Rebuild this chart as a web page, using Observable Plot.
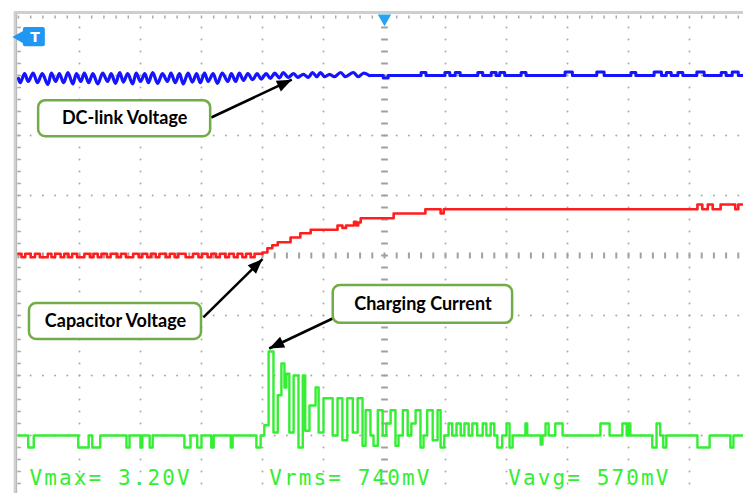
<!DOCTYPE html>
<html><head><meta charset="utf-8">
<script src="https://cdn.jsdelivr.net/npm/d3@7"></script>
<script src="https://cdn.jsdelivr.net/npm/@observablehq/plot@0.6"></script>
<style>
html,body{margin:0;padding:0;background:#fff;overflow:hidden;}
svg{display:block;overflow:hidden;}
g[font-family="DejaVu Sans Mono"] text{letter-spacing:2.1px;}
</style>
</head><body><div id="chart"></div>
<script>
// time in ms (10 ms/div, trigger at 0); level in screen divisions (8 div tall)
const dcRipple = [
  [-60,2.95],[-59.7,2.88],[-59.0,3.03],[-58.4,2.90],[-57.6,3.04],[-56.9,2.88],[-56.1,3.03],[-55.2,2.85],
  [-54.6,3.04],[-53.9,2.90],[-53.3,3.03],[-52.6,2.88],[-51.9,3.05],[-51.1,2.86],[-50.5,3.03],[-49.8,2.90],
  [-49.2,3.04],[-48.5,2.88],[-47.8,3.03],[-47.0,2.86],[-46.2,3.04],[-45.4,2.90],[-44.8,3.03],[-44.1,2.87],
  [-43.4,3.05],[-42.8,2.89],[-42.1,3.03],[-41.3,2.86],[-40.7,3.04],[-40.0,2.90],[-39.3,3.03],[-38.7,2.88],
  [-38.0,3.05],[-37.2,2.87],[-36.4,3.03],[-35.6,2.90],[-35.0,3.04],[-34.3,2.88],[-33.6,3.03],[-33.0,2.86],
  [-32.2,3.04],[-31.5,2.89],[-30.8,3.03],[-30.2,2.88],[-29.5,3.04],[-28.9,2.90],[-28.1,3.03],[-27.4,2.87],
  [-26.6,3.04],[-25.7,2.90],[-25.1,3.03],[-24.4,2.90],[-23.8,3.04],[-23.1,2.92],[-22.4,3.03],[-21.6,2.93],
  [-20.9,3.03],[-20.2,2.94],[-19.4,3.03],[-18.7,2.95],[-18.0,3.04],[-17.2,2.96],[-16.6,3.05],[-15.8,2.97],
  [-14.9,3.03],[-14.2,2.97],[-13.3,3.02],[-12.5,2.97],[-11.8,3.05],[-11.1,2.98],[-10.5,3.05],[-9.8,2.98],
  [-9.0,3.02],[-8.2,2.98],[-7.2,3.05],[-6.4,2.98],[-5.1,3.05],[-4.3,2.98],[-3.4,3.04],[-2.5,3.0]
];
const dcLevel = 3.0;
// [start, end, level] of the small glitches on the settled DC-link trace
const dcGlitches = [
  [-0.2,0.6,2.96],[6.0,6.8,3.05],[9.9,10.7,3.05],[11.6,12.4,3.05],[15.3,16.1,3.05],[17.5,18.3,3.05],
  [18.9,19.7,3.05],[22.4,23.2,3.05],[29.6,30.8,3.06],[34.8,36.0,3.06],[40.4,41.2,3.05],[44.2,45.4,3.06],
  [46.2,47.0,3.05],[48.1,48.9,3.05],[51.2,52.4,3.06],[55.2,56.0,3.05],[57.0,58.0,3.06]
];
const capLevel0 = 0.03;
const capNotches = [
  [-59.5,-58.9],[-58.0,-57.3],[-56.5,-55.2],[-54.6,-54.0],[-53.1,-52.5],[-51.8,-51.2],[-50.4,-49.2],
  [-48.3,-47.7],[-47.0,-46.4],[-45.5,-44.9],[-43.8,-43.2],[-42.4,-41.2],[-40.3,-39.7],[-38.9,-38.3],
  [-37.5,-36.9],[-35.8,-35.2],[-34.4,-33.8],[-32.6,-31.4],[-30.5,-29.9],[-29.0,-28.4],[-27.6,-27.0],
  [-26.1,-25.5],[-24.7,-24.1],[-23.3,-22.7],[-21.9,-21.3]
];
const capRise = [
  [-20.0,0.05],[-19.2,0.12],[-18.4,0.17],[-17.5,0.22],[-15.4,0.30],[-13.8,0.37],[-12.1,0.43],
  [-7.7,0.50],[-6.9,0.46],[-6.3,0.50],[-5.0,0.56],[-4.6,0.50],[-4.3,0.55],[-3.9,0.62],[1.5,0.70],
  [6.7,0.77],[9.2,0.70],[9.7,0.77],[51.3,0.85],[52.1,0.77],[53.0,0.85],[53.8,0.77],[55.1,0.85],
  [57.5,0.77],[58.0,0.85],[60,0.85]
];
const current = [
  [-60,-3.0],[-58.4,-3.2],[-57.5,-3.0],[-50.2,-3.2],[-48.5,-3.0],[-47.9,-3.2],[-46.6,-3.0],[-42.3,-3.2],
  [-41.8,-3.0],[-40.0,-3.2],[-39.7,-3.0],[-38.5,-3.2],[-38.0,-3.0],[-32.8,-3.2],[-31.8,-3.0],[-30.7,-3.2],
  [-30.0,-3.0],[-28.4,-3.2],[-28.0,-3.0],[-25.2,-3.2],[-24.9,-3.0],[-21.0,-3.2],[-20.3,-3.0],[-19.7,-2.83],
  [-19.0,-1.60],[-18.2,-2.95],[-17.5,-2.33],[-16.9,-1.80],[-16.4,-2.20],[-16.1,-1.97],[-15.6,-2.95],
  [-14.9,-2.00],[-14.1,-3.20],[-13.4,-2.00],[-13.0,-2.92],[-12.3,-2.50],[-11.3,-2.20],[-10.8,-2.95],
  [-10.0,-2.38],[-8.5,-3.00],[-7.7,-2.38],[-6.9,-3.08],[-6.1,-2.38],[-5.2,-2.95],[-4.4,-2.38],[-3.6,-3.17],
  [-3.1,-2.58],[-2.3,-3.00],[-1.8,-3.17],[-1.1,-2.58],[-0.3,-3.00],[0.3,-2.80],[1.0,-2.58],[1.8,-3.17],
  [2.3,-3.00],[3.0,-2.58],[3.8,-3.00],[4.4,-2.80],[5.1,-2.58],[5.9,-3.20],[6.4,-3.00],[7.0,-2.58],
  [7.9,-3.08],[8.7,-2.58],[9.2,-3.20],[9.8,-3.00],[10.5,-2.80],[11.1,-3.00],[11.8,-2.80],[12.5,-3.00],
  [13.1,-2.80],[13.8,-3.00],[14.4,-2.80],[15.2,-3.00],[16.1,-2.80],[16.7,-3.00],[17.4,-2.80],[18.0,-3.00],
  [18.5,-3.20],[19.3,-3.00],[20.0,-2.80],[20.5,-3.20],[21.0,-3.00],[23.1,-2.80],[23.4,-3.00],[25.6,-3.15],
  [25.9,-3.00],[26.4,-2.80],[26.9,-3.00],[28.0,-2.80],[29.2,-3.00],[35.4,-2.80],[36.9,-3.00],[39.0,-2.80],
  [39.7,-3.00],[40.0,-2.80],[40.3,-3.00],[43.9,-3.20],[44.6,-2.80],[45.2,-3.00],[45.7,-3.20],[46.2,-3.00],
  [51.3,-3.20],[53.3,-3.00],[56.7,-3.20],[57.2,-3.00],[60,-3.00]
];
const readouts = [
  {t:-58.2, label:"Vmax= 3.20V"},
  {t:-18.9, label:"Vrms= 740mV"},
  {t:20.3, label:"Vavg= 570mV"}
];
const callouts = [
  {label:"DC-link Voltage",   t1:-56.7, t2:-28.5, v1:1.98, v2:2.58, from:[-28.4,2.30], to:[-15.2,2.93]},
  {label:"Capacitor Voltage", t1:-58.2, t2:-30.0, v1:-1.40, v2:-0.80, from:[-29.7,-1.03], to:[-20.0,-0.06]},
  {label:"Charging Current",  t1:-8.4,  t2:21.0,  v1:-1.13, v2:-0.50, from:[-8.5,-1.05], to:[-18.9,-1.55]}
];

// ---- build trace tables from the read values ----
const dcSettled = [[-2.5, dcLevel]];
for (const [a,b,l] of dcGlitches) { dcSettled.push([a,l],[b,dcLevel]); }
dcSettled.push([60, dcLevel]);
const capTrace = [[-60, capLevel0]];
for (const [a,b] of capNotches) { capTrace.push([a,-0.03],[b,capLevel0]); }
capTrace.push(...capRise);

// ---- graticule (divisions + border ticks) ----
const sub = d3.range(-4, 4.001, 0.2).map(v => +v.toFixed(2));
const subT = d3.range(-60, 60.001, 2).map(t => +t.toFixed(1));
const vDots = [], hDots = [];
for (const t of d3.range(-50, 61, 10)) if (t !== 0) for (const v of sub) if (v < 3.9) vDots.push({t, v});
for (const v of [-4,-3,-2,-1,1,2,3]) for (const t of subT) hDots.push({t, v});
const centerVDash = sub.filter(v => v < 3.9).map(v => ({v}));
const centerHDash = subT.map(t => ({t}));

const xOpt = {domain:[-60,60], range:[18,750]};
const yOpt = {domain:[-4,4], range:[495,15]};
const X = Plot.scale({x: xOpt}), Y = Plot.scale({y: yOpt});
const heads = callouts.map(c => {
  const dx = X.apply(c.to[0]) - X.apply(c.from[0]);
  const dy = Y.apply(c.to[1]) - Y.apply(c.from[1]);
  return {t:c.to[0], v:c.to[1], a: Math.atan2(dx, -dy) * 180 / Math.PI};
});
// arrow head with tip at origin, pointing up
const headSymbol = {draw(ctx, size){ const s = Math.sqrt(size); ctx.moveTo(0,0); ctx.lineTo(-0.42*s, 1.05*s); ctx.lineTo(0.42*s, 1.05*s); ctx.closePath(); }};

const gray = "#a9a9a9";
const chart = Plot.plot({
  width: 743, height: 493, margin: 0,
  x: {...xOpt, axis: null},
  y: {...yOpt, axis: null},
  style: {background: "#fff", overflow: "hidden"},
  marks: [
    // frame
    Plot.ruleY([4.05], {x1:-60.6, x2:61, stroke:"#cfcfcf", strokeWidth:3}),
    Plot.ruleX([-60.55], {y1:-4.3, y2:4.06, stroke:"#cfcfcf", strokeWidth:3}),
    Plot.ruleX([-60.3], {y1:-4.3, y2:4.02, stroke:"#b5b5b5", strokeWidth:1}),
    // border ticks
    Plot.link(subT, {x1:d=>d, x2:d=>d, y1:4.0, y2:3.95, stroke:gray, strokeWidth:1.5}),
    Plot.link(sub.filter(v=>v<3.9), {x1:-60.2, x2:-59.6, y1:d=>d, y2:d=>d, stroke:gray, strokeWidth:1.5}),
    // grid dots
    Plot.dot(vDots, {x:"t", y:"v", r:1, fill:gray, stroke:null}),
    Plot.dot(hDots, {x:"t", y:"v", r:1, fill:gray, stroke:null}),
    Plot.link(centerVDash, {x1:-0.55, x2:0.55, y1:"v", y2:"v", stroke:"#a0a0a0", strokeWidth:2}),
    Plot.link(centerHDash, {x1:"t", x2:"t", y1:-0.05, y2:0.05, stroke:"#a0a0a0", strokeWidth:2}),
    // traces
    Plot.line(dcRipple, {x:d=>d[0], y:d=>d[1], stroke:"#1414ff", strokeWidth:3.2, curve:"catmull-rom"}),
    Plot.line(dcSettled, {x:d=>d[0], y:d=>d[1], stroke:"#1414ff", strokeWidth:3, curve:"step-after"}),
    Plot.line(capTrace, {x:d=>d[0], y:d=>d[1], stroke:"#ff1e1e", strokeWidth:2.6, curve:"step-after"}),
    Plot.line(current, {x:d=>d[0], y:d=>d[1], stroke:"#33ee33", strokeWidth:2.4, curve:"step-after"}),
    // trigger markers
    Plot.dot([{t:0, v:3.95}], {x:"t", y:"v", symbol:"triangle", rotate:180, r:5, fill:"#29a3f0", stroke:null}),
    Plot.rect([{t1:-59.2, t2:-55.6, v1:3.48, v2:3.8}], {x1:"t1", x2:"t2", y1:"v1", y2:"v2", fill:"#2196f3", rx:2}),
    Plot.dot([{t:-59.6, v:3.64}], {x:"t", y:"v", symbol:"triangle", rotate:-90, r:5.5, fill:"#2196f3", stroke:null}),
    Plot.text([{t:-57.3, v:3.64}], {x:"t", y:"v", text:()=>"T", fill:"#fff", fontSize:14, fontWeight:"bold", fontFamily:"DejaVu Sans"}),
    // readouts
    Plot.text(readouts, {x:"t", y:-3.72, text:"label", textAnchor:"start", fill:"#33ee33", fontSize:21,
      fontFamily:"DejaVu Sans Mono"}),
    // callouts
    Plot.link(callouts, {x1:d=>d.from[0], y1:d=>d.from[1], x2:d=>d.to[0], y2:d=>d.to[1], stroke:"#000", strokeWidth:2.5}),
    Plot.dot(heads, {x:"t", y:"v", rotate:"a", symbol:headSymbol, r:8, fill:"#000", stroke:null}),
    Plot.rect(callouts, {x1:"t1", x2:"t2", y1:"v1", y2:"v2", fill:"#fff", stroke:"#70ad47", strokeWidth:2.5, rx:7}),
    Plot.text(callouts, {x:d=>(d.t1+d.t2)/2, y:d=>(d.v1+d.v2)/2, text:"label", fill:"#000", fontSize:18,
      fontWeight:"bold", fontFamily:"Lato, sans-serif"})
  ]
});
document.getElementById("chart").append(chart);
</script>
</body></html>
